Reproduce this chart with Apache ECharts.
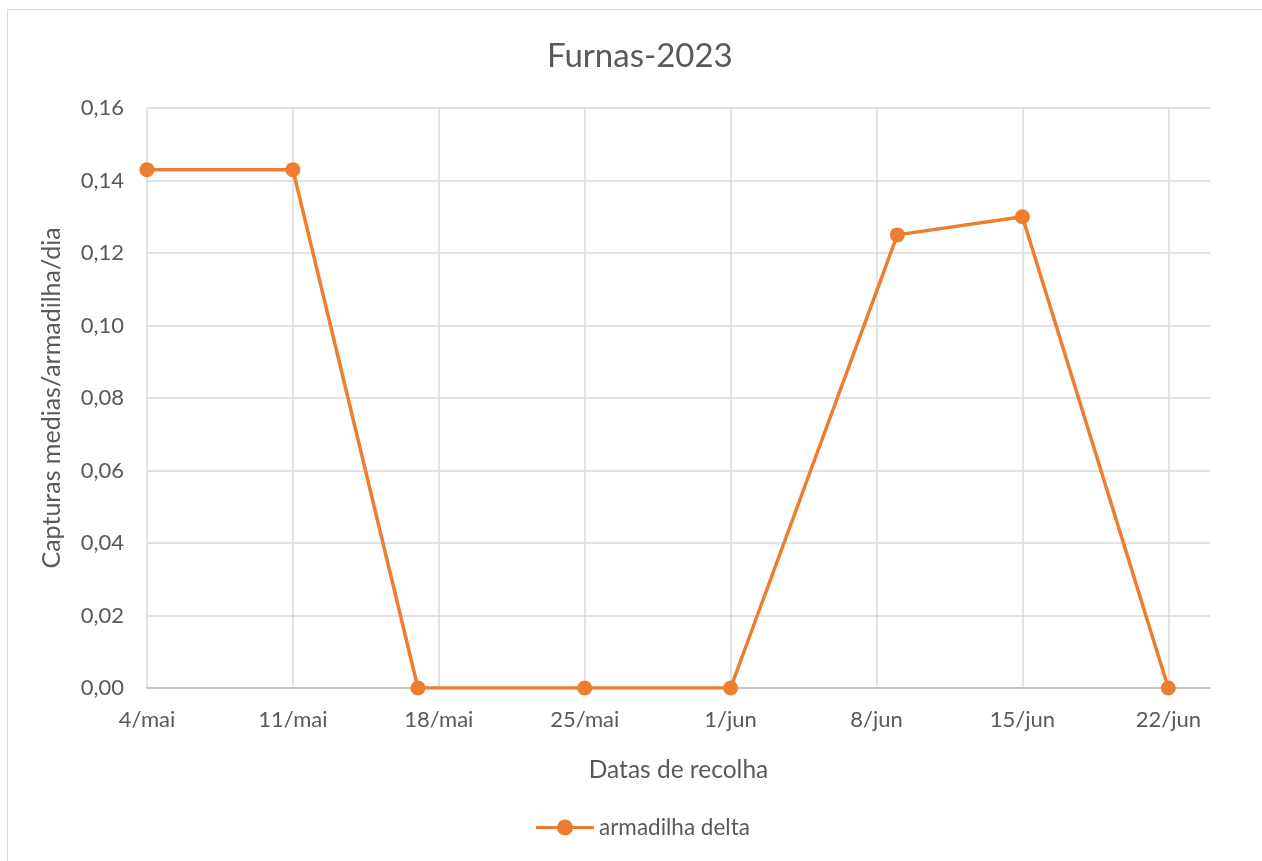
<!DOCTYPE html>
<html><head><meta charset="utf-8">
<script src="https://cdn.jsdelivr.net/npm/echarts@6/dist/echarts.min.js"></script>
<style>
html,body{margin:0;padding:0;background:#fff;}
#frame{position:absolute;left:7px;top:9px;width:1262px;height:861px;border:1px solid #d9d9d9;box-sizing:border-box;}
#c{position:absolute;left:0;top:0;width:1262px;height:861px;}
</style></head>
<body><div id="frame"></div><div id="c"></div>
<script>
// days after 4 May 2023
const dayOffsets = [0, 7, 13, 21, 28, 36, 42, 49];
const captures = [0.143, 0.143, 0, 0, 0, 0.125, 0.13, 0];
const tickLabels = ['4/mai','11/mai','18/mai','25/mai','1/jun','8/jun','15/jun','22/jun'];
const seriesName = 'armadilha delta';

const font = 'Lato, "Open Sans", sans-serif';
const grey = '#595959';
const chart = echarts.init(document.getElementById('c'));
chart.setOption({
  animation:false,
  title:{text:'Furnas-2023',left:542,top:35,textStyle:{fontFamily:font,fontSize:33,fontWeight:'normal',color:grey}},
  grid:{left:147,right:52,top:108,bottom:173},
  legend:{bottom:17,left:531,itemWidth:58,itemHeight:16,itemGap:4,
    textStyle:{fontFamily:font,fontSize:22.5,color:grey},
    data:[{name:seriesName,icon:'path://M0,6.5H58V9.5H0Z M21,8A8,8 0 1,1 37,8A8,8 0 1,1 21,8Z'}]},
  xAxis:{type:'value',min:0,max:51,interval:7,
    name:'Datas de recolha',nameLocation:'middle',nameGap:70,
    nameTextStyle:{fontFamily:font,fontSize:24.5,color:grey},
    axisLine:{show:true,onZero:true,lineStyle:{color:'#bfbfbf',width:1.5}},
    axisTick:{show:false},
    splitLine:{show:true,showMaxLine:false,lineStyle:{color:'#d9d9d9',width:1.5}},
    axisLabel:{fontFamily:font,fontSize:22,color:grey,margin:21,showMaxLabel:false,
      formatter:v=>(v%7===0 ? (tickLabels[v/7]||'') : '')}},
  yAxis:{type:'value',min:0,max:0.16,interval:0.02,
    name:'Capturas medias/armadilha/dia',nameLocation:'middle',nameGap:83,
    nameTextStyle:{fontFamily:font,fontSize:25,color:grey},
    axisLine:{show:false},axisTick:{show:false},
    splitLine:{show:true,lineStyle:{color:'#d9d9d9',width:1.5}},
    axisLabel:{fontFamily:font,fontSize:22,color:grey,margin:23,formatter:v=>v.toFixed(2).replace('.',',')}},
  series:[{name:seriesName,type:'line',
    data:dayOffsets.map((d,i)=>[d,captures[i]]),
    symbol:'circle',symbolSize:15,
    lineStyle:{color:'#ED7D31',width:3.5},itemStyle:{color:'#ED7D31'}}]
});
</script></body></html>
